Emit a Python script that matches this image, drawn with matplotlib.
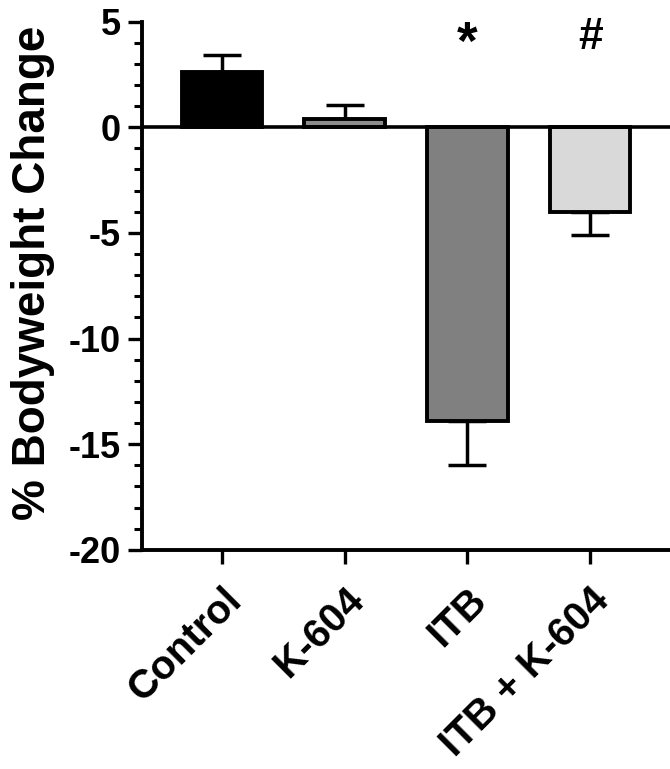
import numpy as np
import matplotlib.pyplot as plt
from matplotlib.ticker import MultipleLocator

# values
groups = ["Control", "K-604", "ITB", "ITB + K-604"]
means = [2.6, 0.4, -13.9, -4.0]
sems = [0.8, 0.65, 2.1, 1.1]
fills = ["#000000", "#8c8c8c", "#808080", "#d9d9d9"]
marks = ["", "", "*", "#"]

plt.rcParams['font.family'] = ['Liberation Sans', 'DejaVu Sans']
plt.rcParams['font.weight'] = 'bold'
plt.rcParams['axes.unicode_minus'] = False

fig = plt.figure(figsize=(6.7, 7.69), dpi=100)
ax = fig.add_axes([0.212, 0.285, 0.788, 0.687])

x = np.arange(len(groups))
m = np.array(means)
e = np.array(sems)
lower = np.where(m < 0, e, 0)
upper = np.where(m >= 0, e, 0)

ax.bar(x, m, width=0.655, color=fills, edgecolor='black', linewidth=2.8, zorder=2)
ax.errorbar(x, m, yerr=[lower, upper], fmt='none', ecolor='black',
            elinewidth=2.5, capsize=14, capthick=2.5, zorder=1)

ax.axhline(0, color='black', linewidth=2.6, zorder=3)

for xi, mk in zip(x, marks):
    if mk == "*":
        ax.text(xi, 3.9, mk, ha='center', va='center', fontsize=38,
                fontweight='bold')
    elif mk:
        ax.text(xi, 4.25, mk, ha='center', va='center', fontsize=32,
                fontweight='bold')

ax.set_xlim(-0.65, 3.65)
ax.set_ylim(-20, 5)
ax.yaxis.set_major_locator(MultipleLocator(5))
ax.yaxis.set_minor_locator(MultipleLocator(1))
ax.set_xticks(x)
ax.set_xticklabels(groups, rotation=45, ha='right', rotation_mode='anchor',
                   fontsize=29, fontweight='bold')
for t in ax.get_yticklabels():
    t.set_fontweight('bold')
ax.tick_params(axis='y', which='major', labelsize=26, width=2.4, length=10, pad=5)
ax.tick_params(axis='y', which='minor', width=2.2, length=6)
ax.tick_params(axis='x', which='major', width=2.4, length=10, pad=12)

ax.set_ylabel("% Bodyweight Change", fontsize=33, fontweight='bold')
ax.yaxis.set_label_coords(-0.165, 0.525)

for s in ['top', 'right']:
    ax.spines[s].set_visible(False)
for s in ['left', 'bottom']:
    ax.spines[s].set_linewidth(2.8)

fig.savefig("out.png", dpi=100)
